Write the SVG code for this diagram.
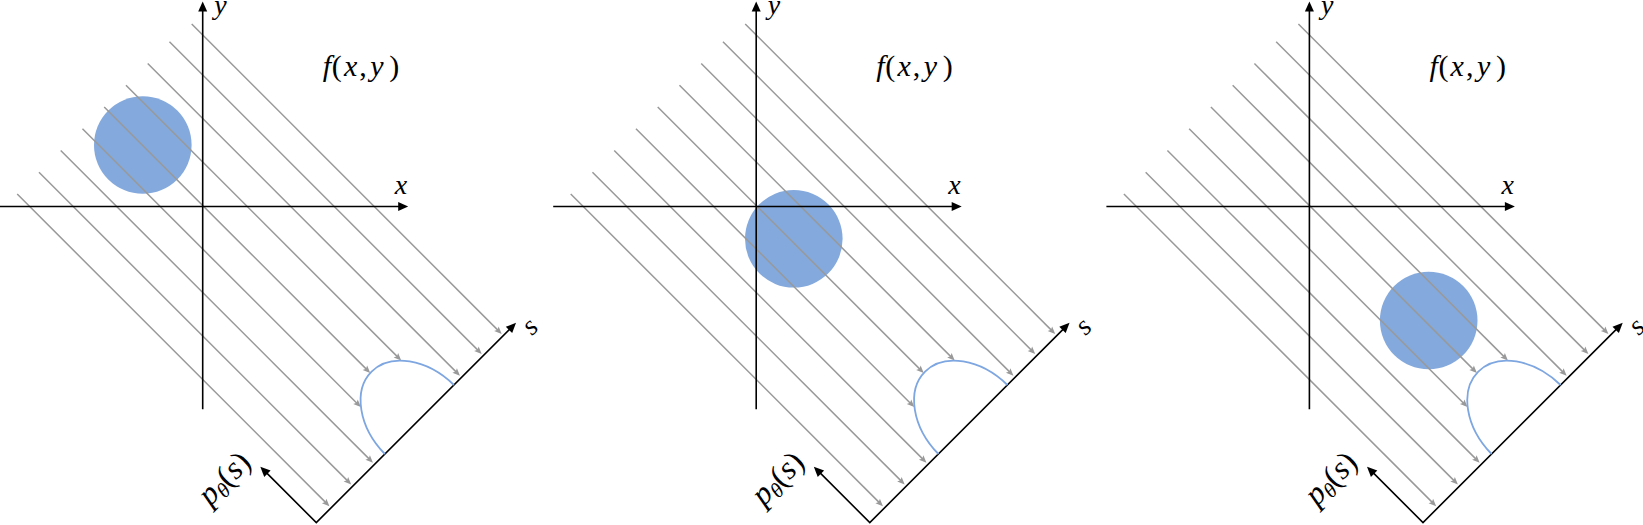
<svg xmlns="http://www.w3.org/2000/svg" width="1643" height="525" viewBox="0 0 1643 525">
<style>
.ax{stroke:#000;stroke-width:1.6;fill:none;marker-end:url(#ka)}
.det{stroke:#000;stroke-width:1.6;fill:none;stroke-linejoin:miter;marker-start:url(#ka);marker-end:url(#ka)}
.ray{stroke:#999999;stroke-width:1.5;fill:none;marker-end:url(#ga)}
.blob{fill:#84A9DC}
.proj{fill:none;stroke:#7EA6E0;stroke-width:1.8}
.t{font-family:"Liberation Serif",serif;font-style:italic;font-size:28px;fill:#000}
.f{font-size:30px}
.p{font-size:32px}
.r{font-style:normal}
</style>
<defs>
<marker id="ka" markerUnits="userSpaceOnUse" viewBox="-6 -6 14 12" markerWidth="14" markerHeight="12" refX="0" refY="0" orient="auto-start-reverse" overflow="visible">
<path d="M -4 -4.5 L 6 0 L -4 4.5 Z" fill="#000"/>
</marker>
<marker id="ga" markerUnits="userSpaceOnUse" viewBox="-6 -5 12 10" markerWidth="12" markerHeight="10" refX="0" refY="0" orient="auto" overflow="visible">
<path d="M -4.5 -3.2 L 3 0 L -4.5 3.2 L -3 0 Z" fill="#999999"/>
</marker>
</defs>
<rect width="1643" height="525" fill="#fff"/>

<!-- Panel 1 -->
<g id="panel1">
<circle id="object1" class="blob" cx="142.8" cy="145" r="48.8"/>
<g transform="translate(202.7,206.5)">
<g id="rays1">
<line class="ray" x1="-11" y1="-182.5" x2="296.88" y2="125.38"/>
<line class="ray" x1="-33.25" y1="-164.75" x2="276.88" y2="145.38"/>
<line class="ray" x1="-55" y1="-143" x2="255.13" y2="167.13"/>
<line class="ray" x1="-76.75" y1="-121.25" x2="196.38" y2="151.88"/>
<line class="ray" x1="-98.5" y1="-99.5" x2="165.38" y2="164.38"/>
<line class="ray" x1="-120.25" y1="-77.75" x2="155.98" y2="198.48"/>
<line class="ray" x1="-142" y1="-56" x2="168.13" y2="254.13"/>
<line class="ray" x1="-163.75" y1="-34.25" x2="146.38" y2="275.88"/>
<line class="ray" x1="-185.5" y1="-12.5" x2="124.63" y2="297.63"/>
</g>
<g id="axes1">
<line class="ax" x1="-203" y1="0" x2="199.5" y2="0"/>
<line class="ax" x1="0" y1="202.8" x2="0" y2="-199"/>
<text class="t" x="11.5" y="-193">y</text>
<text class="t" x="192" y="-13">x</text>
</g>
<g id="label1"><text class="t f" y="-130.5"><tspan x="120">f</tspan><tspan class="r" x="129">(</tspan><tspan x="141.2">x</tspan><tspan class="r" x="156.5">,</tspan><tspan x="167.5">y</tspan><tspan class="r" x="186.5">)</tspan></text></g>
<g id="detector1">
<path class="det" d="M 61.89 264.39 L 113.6 316.1 L 309.11 120.59"/>
<path class="proj" d="M 182.2 247.5 A 48.8 69 -45 0 1 251.2 178.5"/>
<text class="t" text-anchor="middle" transform="translate(333.2,126) rotate(-45)">s</text>
<text class="t p" text-anchor="middle" transform="translate(28.5,279) rotate(-45)">p<tspan font-size="21" dy="5">θ</tspan><tspan class="r" dy="-5">(</tspan>s<tspan class="r">)</tspan></text>
</g>
</g>
</g>

<!-- Panel 2 -->
<g id="panel2">
<circle id="object2" class="blob" cx="793.8" cy="238.8" r="48.8"/>
<g transform="translate(756.2,206.5)">
<g id="rays2">
<line class="ray" x1="-11" y1="-182.5" x2="296.88" y2="125.38"/>
<line class="ray" x1="-33.25" y1="-164.75" x2="276.88" y2="145.38"/>
<line class="ray" x1="-55" y1="-143" x2="255.13" y2="167.13"/>
<line class="ray" x1="-76.75" y1="-121.25" x2="196.38" y2="151.88"/>
<line class="ray" x1="-98.5" y1="-99.5" x2="165.38" y2="164.38"/>
<line class="ray" x1="-120.25" y1="-77.75" x2="155.98" y2="198.48"/>
<line class="ray" x1="-142" y1="-56" x2="168.13" y2="254.13"/>
<line class="ray" x1="-163.75" y1="-34.25" x2="146.38" y2="275.88"/>
<line class="ray" x1="-185.5" y1="-12.5" x2="124.63" y2="297.63"/>
</g>
<g id="axes2">
<line class="ax" x1="-203" y1="0" x2="199.5" y2="0"/>
<line class="ax" x1="0" y1="202.8" x2="0" y2="-199"/>
<text class="t" x="11.5" y="-193">y</text>
<text class="t" x="192" y="-13">x</text>
</g>
<g id="label2"><text class="t f" y="-130.5"><tspan x="120">f</tspan><tspan class="r" x="129">(</tspan><tspan x="141.2">x</tspan><tspan class="r" x="156.5">,</tspan><tspan x="167.5">y</tspan><tspan class="r" x="186.5">)</tspan></text></g>
<g id="detector2">
<path class="det" d="M 61.89 264.39 L 113.6 316.1 L 309.11 120.59"/>
<path class="proj" d="M 182.2 247.5 A 48.8 69 -45 0 1 251.2 178.5"/>
<text class="t" text-anchor="middle" transform="translate(333.2,126) rotate(-45)">s</text>
<text class="t p" text-anchor="middle" transform="translate(28.5,279) rotate(-45)">p<tspan font-size="21" dy="5">θ</tspan><tspan class="r" dy="-5">(</tspan>s<tspan class="r">)</tspan></text>
</g>
</g>
</g>

<!-- Panel 3 -->
<g id="panel3">
<circle id="object3" class="blob" cx="1428.7" cy="320.5" r="48.8"/>
<g transform="translate(1309.4,206.5)">
<g id="rays3">
<line class="ray" x1="-11" y1="-182.5" x2="296.88" y2="125.38"/>
<line class="ray" x1="-33.25" y1="-164.75" x2="276.88" y2="145.38"/>
<line class="ray" x1="-55" y1="-143" x2="255.13" y2="167.13"/>
<line class="ray" x1="-76.75" y1="-121.25" x2="196.38" y2="151.88"/>
<line class="ray" x1="-98.5" y1="-99.5" x2="165.38" y2="164.38"/>
<line class="ray" x1="-120.25" y1="-77.75" x2="155.98" y2="198.48"/>
<line class="ray" x1="-142" y1="-56" x2="168.13" y2="254.13"/>
<line class="ray" x1="-163.75" y1="-34.25" x2="146.38" y2="275.88"/>
<line class="ray" x1="-185.5" y1="-12.5" x2="124.63" y2="297.63"/>
</g>
<g id="axes3">
<line class="ax" x1="-203" y1="0" x2="199.5" y2="0"/>
<line class="ax" x1="0" y1="202.8" x2="0" y2="-199"/>
<text class="t" x="11.5" y="-193">y</text>
<text class="t" x="192" y="-13">x</text>
</g>
<g id="label3"><text class="t f" y="-130.5"><tspan x="120">f</tspan><tspan class="r" x="129">(</tspan><tspan x="141.2">x</tspan><tspan class="r" x="156.5">,</tspan><tspan x="167.5">y</tspan><tspan class="r" x="186.5">)</tspan></text></g>
<g id="detector3">
<path class="det" d="M 61.89 264.39 L 113.6 316.1 L 309.11 120.59"/>
<path class="proj" d="M 182.2 247.5 A 48.8 69 -45 0 1 251.2 178.5"/>
<text class="t" text-anchor="middle" transform="translate(333.2,126) rotate(-45)">s</text>
<text class="t p" text-anchor="middle" transform="translate(28.5,279) rotate(-45)">p<tspan font-size="21" dy="5">θ</tspan><tspan class="r" dy="-5">(</tspan>s<tspan class="r">)</tspan></text>
</g>
</g>
</g>
</svg>
